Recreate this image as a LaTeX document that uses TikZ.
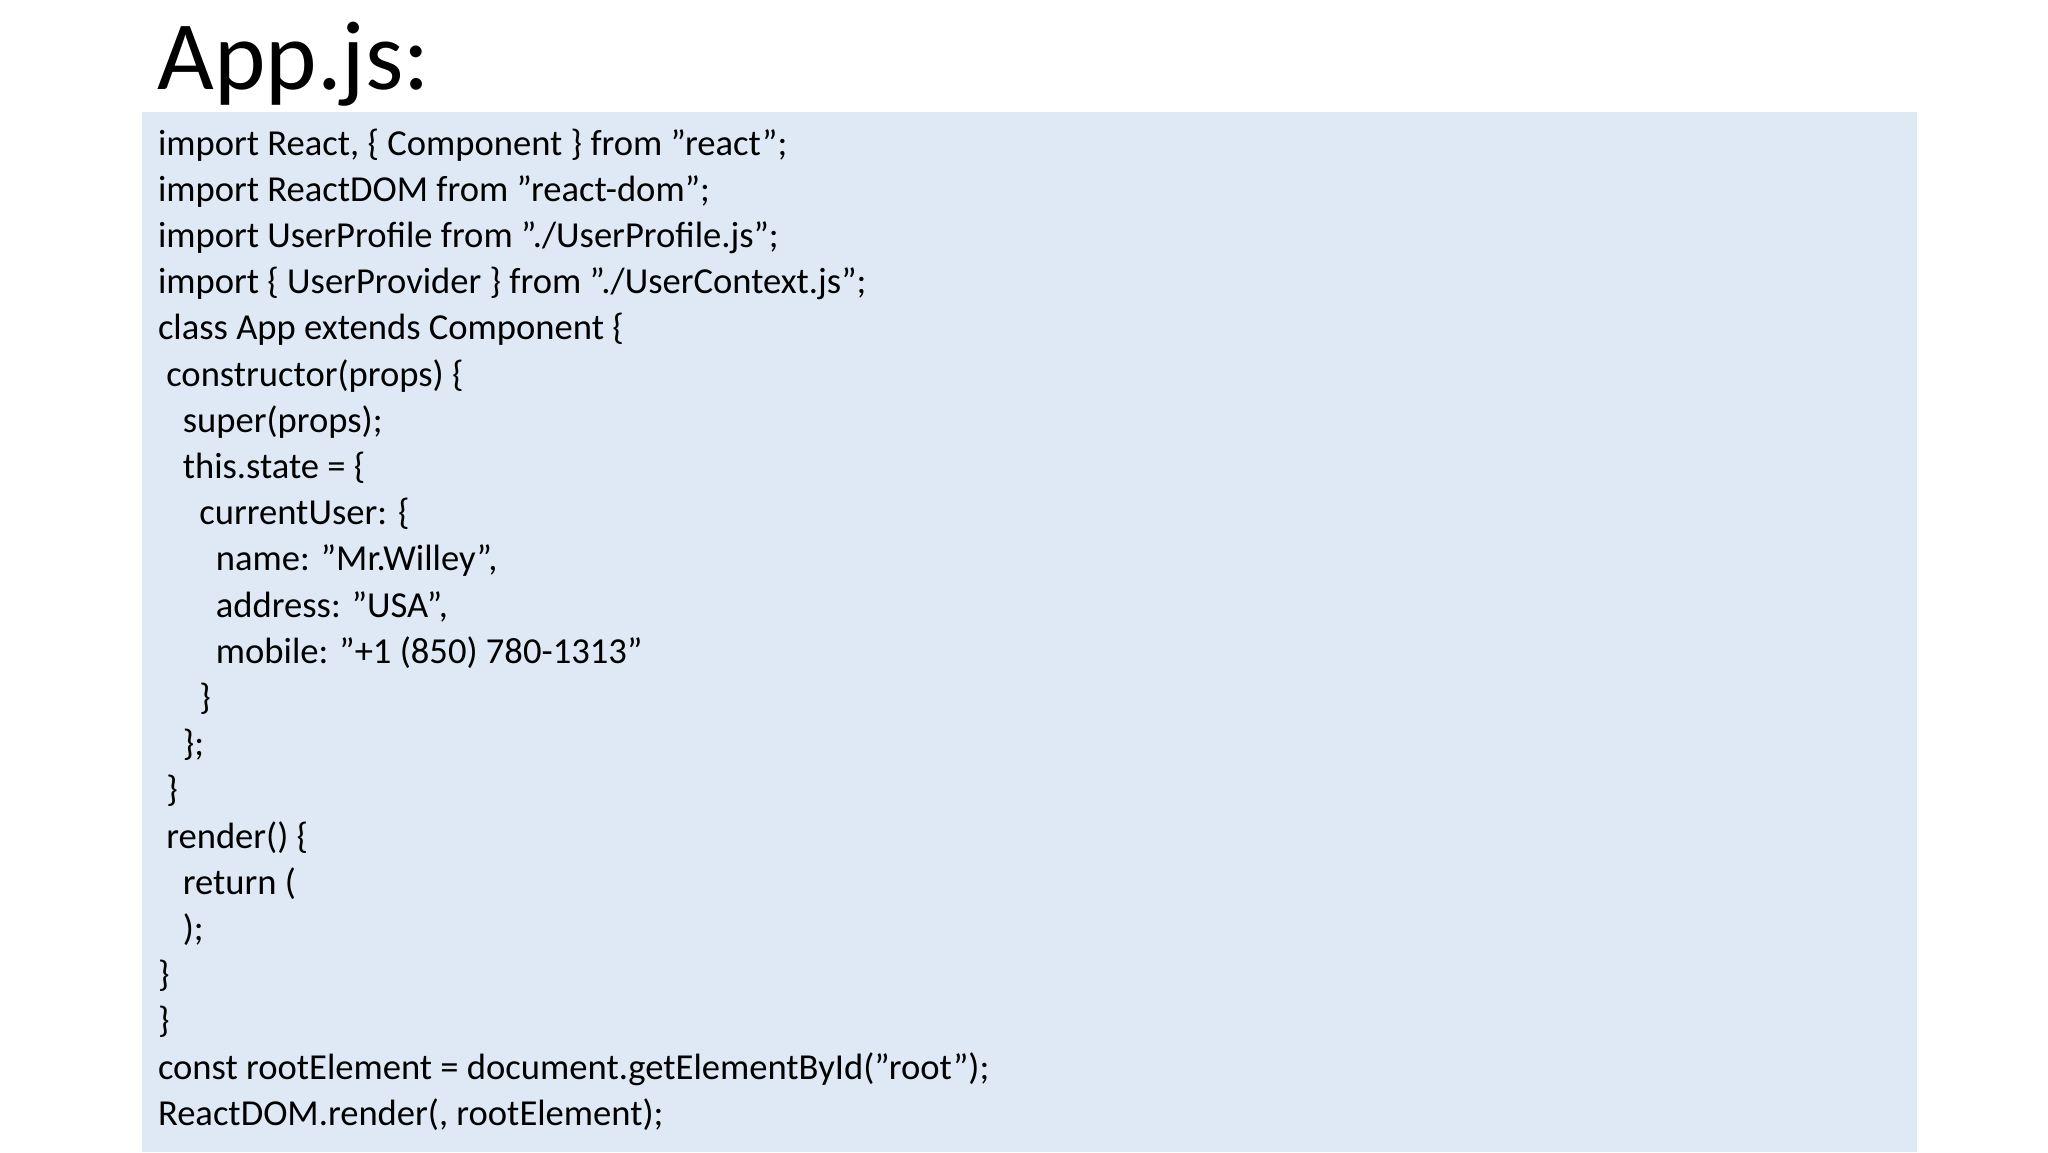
\documentclass[tikz,border=0pt]{standalone}
\usepackage{fontspec}
\setmainfont{Carlito}
\definecolor{boxbg}{HTML}{DFE9F6}
\newcommand{\ind}[1]{\hspace*{#1\dimexpr 0.226em\relax}}
\begin{document}
\begin{tikzpicture}[x=1pt,y=-1pt,
  codeline/.style={anchor=base west,inner sep=0pt,font=\fontsize{18.3}{22}\selectfont}]
\useasboundingbox (0,0) rectangle (1024,576);
\fill[white] (0,0) rectangle (1024,576);
\fill[boxbg] (71,56) rectangle (958.5,576);
\node[anchor=base west,inner sep=0pt,font=\fontsize{49}{55}\selectfont] (title) at (78.5,44.5) {App.js:};
\foreach \t [count=\i] in {
 {import React, \{ Component \} from "react";},
 {import ReactDOM from "react-dom";},
 {import UserProfile from "./UserProfile.js";},
 {import \{ UserProvider \} from "./UserContext.js";},
 {class App extends Component \{},
 {\ind{1}constructor(props) \{},
 {\ind{3}super(props);},
 {\ind{3}this.state = \{},
 {\ind{5}currentUser: \{},
 {\ind{7}name: "Mr.Willey",},
 {\ind{7}address: "USA",},
 {\ind{7}mobile: "+1 (850) 780-1313"},
 {\ind{5}\}},
 {\ind{3}\};},
 {\ind{1}\}},
 {\ind{1}render() \{},
 {\ind{3}return (},
 {\ind{3});},
 {\}},
 {\}},
 {const rootElement = document.getElementById("root");},
 {ReactDOM.render(, rootElement);}
}{
  \node[codeline] (l\i) at (78.8,{77.5+23.1*(\i-1)}) {\t};
}
\end{tikzpicture}
\end{document}
